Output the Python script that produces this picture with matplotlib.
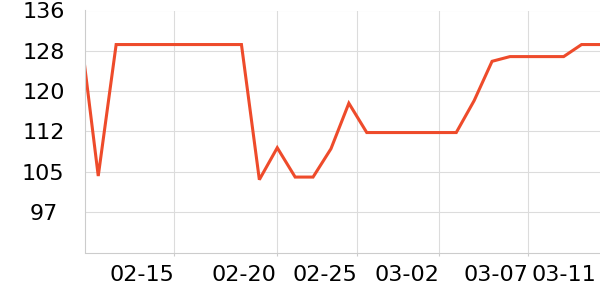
import matplotlib
matplotlib.use("Agg")
import matplotlib.pyplot as plt
import numpy as np

# series values (one per step; first point lies just left of the visible window)
values = [132.1, 104.4, 129.5, 129.5, 129.5, 129.5, 129.5, 129.5, 129.5, 129.5,
          103.7, 109.8, 104.2, 104.2, 109.6, 118.3, 112.7, 112.7, 112.7, 112.7,
          112.7, 112.7, 118.8, 126.3, 127.2, 127.2, 127.2, 127.2, 129.5, 129.5]

x_labels = ["02-15", "02-20", "02-25", "03-02", "03-07", "03-11"]
x_label_pos = [5.25, 10.97, 15.47, 20.05, 25.02, 28.83]

y_ticks = [97.5, 105.2, 112.9, 120.6, 128.3, 136.0]
y_labels = ["97", "105", "112", "120", "128", "136"]

x = np.arange(len(values))

fig = plt.figure(figsize=(6, 3), dpi=100)
ax = fig.add_axes([85/600, (300-252.5)/300, 515/600, 242/300])

ax.plot(x, values, color="#EE4B2B", lw=2.2, solid_joinstyle="miter", clip_on=True)

ax.set_xlim(0.26, 29.03)
ax.set_ylim(89.8, 136.0)

ax.set_yticks(y_ticks)
ax.set_yticklabels(y_labels, ha="center")
ax.tick_params(axis="y", length=0, pad=30, labelsize=16, colors="black")

ax.set_xticks(x_label_pos)
ax.set_xticklabels(x_labels, ha="right")
ax.tick_params(axis="x", length=2.5, width=0.8, color="#cccccc", pad=6.5, labelsize=16)

ax.grid(True, color="#dcdcdc", lw=0.8)
ax.set_axisbelow(True)

# last label sits at the right edge without its own gridline/tick
ax.xaxis.get_gridlines()[-1].set_visible(False)
ax.xaxis.get_major_ticks()[-1].tick1line.set_visible(False)

for s in ["top", "right"]:
    ax.spines[s].set_visible(False)
for s in ["left", "bottom"]:
    ax.spines[s].set_color("#cccccc")
    ax.spines[s].set_linewidth(0.8)

fig.savefig("out.png", dpi=100)
